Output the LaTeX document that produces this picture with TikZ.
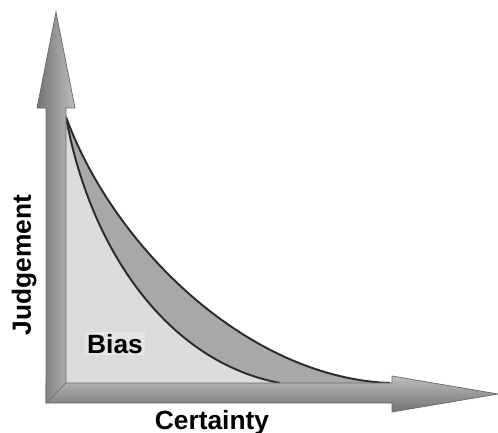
\documentclass[tikz,border=0pt]{standalone}
\usepackage{fontspec}
\setmainfont{Liberation Sans}
\definecolor{ink}    {HTML}{2B2B2B}
\definecolor{shaft}  {HTML}{8E8E8E}
\definecolor{shaftlt}{HTML}{BEBEBE}
\definecolor{bandg}  {HTML}{A8A8A8}
\definecolor{areag}  {HTML}{DCDCDC}
\tikzset{
  % --- labels
  lbl/.style   = {font=\fontsize{15}{18}\selectfont\bfseries, text=black, inner sep=1pt},
  % --- shapes
  vaxis/.style = {draw=shaft!75!black, line width=0.4pt, left color=shaft!80!black, right color=shaftlt},
  haxis/.style = {draw=shaft!75!black, line width=0.4pt, top color=shaftlt, bottom color=shaft!80!black},
  area/.style  = {fill=areag},
  band/.style  = {fill=bandg},
  curve/.style = {draw=ink, line width=1.1pt, line join=round},
}
\begin{document}
\begin{tikzpicture}[x=0.02cm, y=-0.02cm]
  \useasboundingbox (0,0) rectangle (498,433);
  \coordinate (top) at (66,117);
  \coordinate (inend) at (280,383);
  \coordinate (outend) at (390,383);

  % bias area and band
  \fill[area] (66,383) -- (top) .. controls (90,250) and (168,362) .. (inend) -- cycle;
  \fill[band] (top) .. controls (115,250) and (250,378) .. (outend)
     -- (inend) .. controls (168,362) and (90,250) .. (top) -- cycle;
  \draw[curve] (top) .. controls (90,250) and (168,362) .. (inend);
  \draw[curve] (top) .. controls (115,250) and (250,378) .. (outend);

  % axes
  \path[haxis] (46,383) -- (392,383) -- (392,376) -- (498,394) -- (392,412) -- (392,403) -- (46,403) -- cycle;
  \path[vaxis] (46,403) -- (46,108) -- (37,108) -- (56,12) -- (75,108) -- (66,108) -- (66,383) -- cycle;

  \node[lbl, rotate=90, anchor=base] (judge) at (31,265) {Judgement};
  \node[lbl, anchor=base] (cert) at (212,429) {Certainty};
  \node[lbl, fill=areag!75!white, anchor=base] (bias) at (115,353) {Bias};
\end{tikzpicture}
\end{document}
